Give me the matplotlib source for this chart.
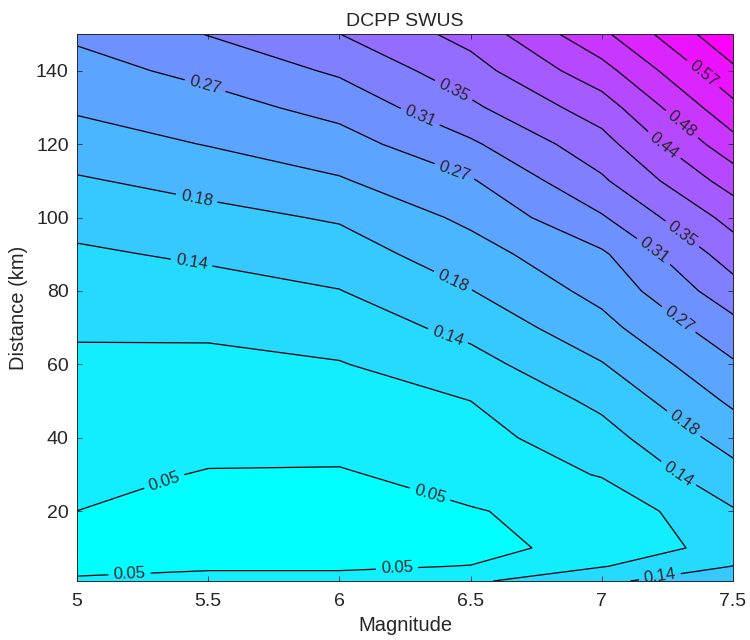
import numpy as np
import matplotlib
matplotlib.use("Agg")
import matplotlib.pyplot as plt

plt.rcParams['font.family'] = ['Liberation Sans', 'DejaVu Sans']

# grid: magnitude (columns) x distance (rows)
magnitude = [5.0, 5.5, 6.0, 6.5, 7.0, 7.5]
distance = [1, 5, 10, 20, 30, 40, 50, 60, 70, 80, 90, 100, 110, 120, 130, 140, 150]

# one row per distance, one value per magnitude
values = [
    [0.0520, 0.0560, 0.0560, 0.0850, 0.1330, 0.1500],
    [0.0460, 0.0475, 0.0475, 0.0505, 0.0910, 0.1375],
    [0.0420, 0.0410, 0.0400, 0.0430, 0.0580, 0.1130],
    [0.0499, 0.0450, 0.0440, 0.0480, 0.0620, 0.1332],
    [0.0592, 0.0480, 0.0469, 0.0629, 0.0962, 0.1653],
    [0.0683, 0.0602, 0.0616, 0.0781, 0.1202, 0.1980],
    [0.0775, 0.0724, 0.0763, 0.0932, 0.1466, 0.2307],
    [0.0866, 0.0847, 0.0910, 0.1209, 0.1776, 0.2616],
    [0.0977, 0.0994, 0.1126, 0.1493, 0.2095, 0.2953],
    [0.1140, 0.1211, 0.1355, 0.1786, 0.2367, 0.3360],
    [0.1303, 0.1434, 0.1593, 0.2053, 0.2602, 0.3740],
    [0.1514, 0.1673, 0.1845, 0.2328, 0.3058, 0.4115],
    [0.1755, 0.1946, 0.2192, 0.2625, 0.3469, 0.4589],
    [0.2027, 0.2251, 0.2491, 0.3032, 0.3803, 0.5106],
    [0.2291, 0.2504, 0.2809, 0.3454, 0.4190, 0.5590],
    [0.2514, 0.2786, 0.3166, 0.3795, 0.4672, 0.6047],
    [0.2740, 0.3117, 0.3530, 0.4119, 0.5176, 0.6500],
]

levels = [0.05, 0.0933, 0.1367, 0.18, 0.2233, 0.2667, 0.31, 0.3533,
          0.3967, 0.44, 0.4833, 0.5267, 0.57, 0.6133]

# where the inline labels sit (magnitude, distance)
label_pos = [
    (5.49, 136.5), (5.46, 106.8), (5.44, 89.2), (5.34, 26.5), (5.20, 2.7),
    (6.22, 3.5), (6.35, 25.9), (6.41, 67.0), (6.43, 82.4), (6.44, 113.0),
    (6.31, 127.8), (6.43, 134.0), (7.39, 139.5), (7.30, 125.0), (7.24, 120.0),
    (7.29, 94.0), (7.18, 89.0), (7.29, 72.0), (7.30, 42.7), (7.30, 31.0),
    (7.22, 2.7),
]

M, R = np.meshgrid(magnitude, distance)
Z = np.array(values)

fig = plt.figure(figsize=(7.5, 6.4), dpi=100)
ax = fig.add_axes([0.1027, 0.0922, 0.8747, 0.8547])

fill_levels = [0.0] + levels + [1.0]
band_colors = plt.cm.cool(np.linspace(0, 1, len(fill_levels) - 1))
ax.contourf(M, R, Z, levels=fill_levels, colors=band_colors)

cs = ax.contour(M, R, Z, levels=levels, colors='k', linewidths=0.9)
ax.clabel(cs, manual=label_pos, inline=True, inline_spacing=5,
          fmt='%.2f', fontsize=12, colors='#262626')

ax.set_xlim(5, 7.5)
ax.set_ylim(1, 150)
ax.set_xticks([5, 5.5, 6, 6.5, 7, 7.5])
ax.set_xticklabels(['5', '5.5', '6', '6.5', '7', '7.5'])
ax.set_yticks([20, 40, 60, 80, 100, 120, 140])

dark = '#262626'
ax.tick_params(direction='in', length=3.6, width=0.6, top=True, right=True,
               labelsize=14, colors=dark, labelcolor=dark)
ax.tick_params(axis='x', pad=9)
ax.tick_params(axis='y', pad=6)
for s in ax.spines.values():
    s.set_color(dark)
    s.set_linewidth(0.7)

ax.set_title('DCPP SWUS', fontsize=14, color=dark, pad=6)
ax.set_xlabel('Magnitude', fontsize=14.5, color=dark, labelpad=4)
ax.set_ylabel('Distance (km)', fontsize=14.5, color=dark, labelpad=6)

fig.savefig('out.png', dpi=100)
